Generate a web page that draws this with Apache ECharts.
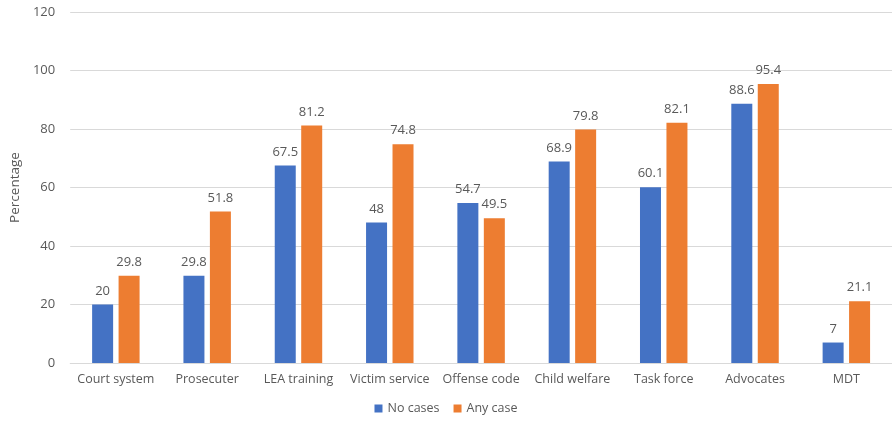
<!DOCTYPE html>
<html>
<head>
<meta charset="utf-8">
<script src="https://cdn.jsdelivr.net/npm/echarts@6/dist/echarts.min.js"></script>
<style>
html, body { margin: 0; padding: 0; background: #fff; }
#main { width: 892px; height: 422px; }
</style>
</head>
<body>
<div id="main"></div>
<script>
"use strict";
const categories = ['Court system', 'Prosecuter', 'LEA training', 'Victim service', 'Offense code', 'Child welfare', 'Task force', 'Advocates', 'MDT'];
const noCases = [20, 29.8, 67.5, 48, 54.7, 68.9, 60.1, 88.6, 7];
const anyCase = [29.8, 51.8, 81.2, 74.8, 49.5, 79.8, 82.1, 95.4, 21.1];

let myChart = echarts.init(document.getElementById('main'));
const txt = '#595959';
const fnt = 'Open Sans';
let option = {
    animation: false,
    textStyle: { fontFamily: fnt },
    grid: { left: 61, right: -2, top: 12, bottom: 59, containLabel: false },
    legend: {
        bottom: 2,
        left: 'center',
        itemWidth: 8,
        itemHeight: 8,
        itemGap: 14,
        icon: 'rect',
        textStyle: { color: txt, fontSize: 12.5, fontFamily: fnt },
        data: ['No cases', 'Any case']
    },
    xAxis: {
        type: 'category',
        data: categories,
        axisTick: { show: false },
        axisLine: { lineStyle: { color: '#d9d9d9' } },
        axisLabel: { color: txt, fontSize: 12.5, margin: 10, interval: 0, fontFamily: fnt }
    },
    yAxis: {
        type: 'value',
        min: 0,
        max: 120,
        interval: 20,
        name: 'Percentage',
        nameLocation: 'middle',
        nameGap: 43,
        nameTextStyle: { color: txt, fontSize: 13.5, fontFamily: fnt },
        axisLine: { show: false },
        axisTick: { show: false },
        splitLine: { lineStyle: { color: '#d9d9d9' } },
        axisLabel: { color: txt, fontSize: 13, margin: 15, fontFamily: fnt }
    },
    series: [{
        name: 'No cases',
        type: 'bar',
        data: noCases,
        barWidth: 21,
        barGap: '26%',
        itemStyle: { color: '#4472C4' },
        label: { show: true, position: 'top', color: txt, fontSize: 13, distance: 7, fontFamily: fnt }
    }, {
        name: 'Any case',
        type: 'bar',
        data: anyCase,
        barWidth: 21,
        itemStyle: { color: '#ED7D31' },
        label: { show: true, position: 'top', color: txt, fontSize: 13, distance: 7, fontFamily: fnt }
    }]
};
myChart.setOption(option);
</script>
</body>
</html>
